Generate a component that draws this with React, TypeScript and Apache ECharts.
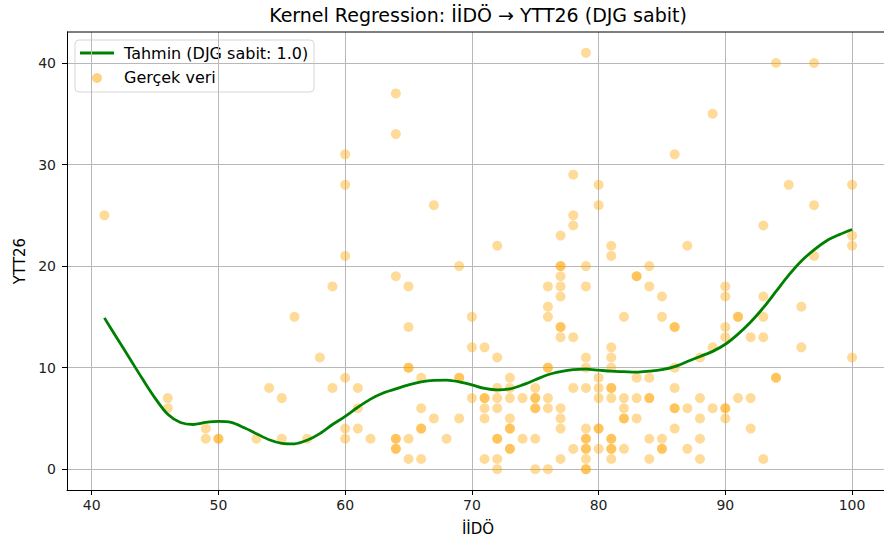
import React, { useEffect, useRef } from "react";
import * as echarts from "echarts";

// Observed data (İİDÖ → YTT26); repeated pairs are overlapping points
const pointX = [
  41,
  46, 46,
  49, 49,
  50, 50,
  53, 54, 55, 55, 56, 57, 58, 59, 59,
  60, 60, 60, 60, 60, 60,
  61, 61, 61, 62,
  64, 64, 64, 64, 64, 64, 64,
  65, 65, 65, 65, 65, 65,
  66, 66, 66, 66, 66,
  67, 67, 68,
  69, 69, 69, 69,
  70, 70, 70,
  71, 71, 71, 71, 71, 71,
  72, 72, 72, 72, 72, 72, 72, 72, 72,
  73, 73, 73, 73, 73, 73, 73, 73,
  74, 74,
  75, 75, 75, 75, 75, 75, 75,
  76, 76, 76, 76, 76, 76, 76, 76,
  77, 77, 77, 77, 77, 77, 77, 77, 77, 77, 77, 77, 77,
  78, 78, 78, 78, 78, 78,
  79, 79, 79, 79, 79, 79, 79, 79, 79, 79, 79, 79, 79, 79,
  80, 80, 80, 80, 80, 80, 80, 80,
  81, 81, 81, 81, 81, 81, 81, 81, 81, 81, 81, 81, 81,
  82, 82, 82, 82, 82, 82,
  83, 83, 83, 83, 83,
  84, 84, 84, 84, 84, 84, 84,
  85, 85, 85, 85, 85,
  86, 86, 86, 86, 86, 86, 86, 86,
  87, 87, 87,
  88, 88, 88, 88, 88,
  89, 89, 89,
  90, 90, 90, 90, 90, 90, 90,
  91, 91, 91,
  92, 92, 92,
  93, 93, 93, 93, 93,
  94, 94, 94,
  95,
  96, 96,
  97, 97, 97,
  100, 100, 100, 100,
];
const pointY = [
  25,
  7, 6,
  4, 3,
  3, 3,
  3, 8, 7, 3, 15, 3, 11, 18, 8,
  31, 28, 21, 9, 4, 3,
  8, 6, 4, 3,
  37, 33, 19, 3, 3, 2, 2,
  18, 14, 10, 10, 3, 1,
  9, 6, 4, 4, 1,
  26, 5, 3,
  20, 9, 9, 5,
  15, 12, 7,
  12, 7, 7, 6, 5, 1,
  22, 11, 8, 7, 6, 3, 3, 1, 0,
  9, 8, 7, 5, 4, 4, 2, 2,
  7, 3,
  8, 7, 7, 6, 6, 3, 0,
  18, 16, 15, 10, 10, 7, 6, 0,
  23, 20, 20, 19, 18, 17, 14, 14, 13, 6, 5, 4, 1,
  29, 25, 24, 13, 8, 2,
  41, 20, 18, 11, 10, 8, 4, 3, 3, 2, 2, 1, 0, 0,
  28, 26, 9, 8, 7, 4, 4, 2,
  22, 21, 12, 11, 10, 8, 8, 7, 3, 3, 2, 2, 1,
  15, 7, 6, 5, 5, 2,
  19, 19, 9, 7, 5,
  20, 18, 9, 7, 7, 3, 1,
  17, 15, 3, 2, 2,
  31, 14, 14, 10, 8, 6, 6, 4,
  22, 6, 2,
  11, 7, 5, 3, 1,
  35, 12, 6,
  18, 17, 14, 13, 6, 6, 5,
  15, 15, 7,
  13, 7, 4,
  24, 17, 15, 13, 1,
  40, 9, 9,
  28,
  16, 12,
  40, 26, 21,
  28, 23, 22, 11,
];

// Kernel regression prediction (DJG fixed at 1.0)
const curveX = [
  41, 42, 43, 44, 45, 46, 47, 48, 49, 50, 51, 52, 53, 54, 55, 56, 57, 58, 59, 60,
  61, 62, 63, 64, 65, 66, 67, 68, 69, 70, 71, 72, 73, 74, 75, 76, 77, 78, 79, 80,
  81, 82, 83, 84, 85, 86, 87, 88, 89, 90, 91, 92, 93, 94, 95, 96, 97, 98, 99, 100,
];
const curveY = [
  14.9, 12.9, 10.9, 8.9, 7.0, 5.4, 4.6, 4.4, 4.6, 4.7, 4.6, 4.1, 3.5, 2.9, 2.55, 2.5, 2.85, 3.5, 4.4, 5.2,
  6.1, 6.9, 7.5, 7.9, 8.3, 8.6, 8.75, 8.77, 8.6, 8.3, 7.95, 7.8, 7.9, 8.3, 8.8, 9.3, 9.6, 9.8, 9.85, 9.75,
  9.65, 9.6, 9.55, 9.65, 9.8, 10.1, 10.6, 11.1, 11.6, 12.3, 13.3, 14.5, 15.9, 17.5, 19.1, 20.5, 21.6, 22.5, 23.1, 23.6,
];

const xTicks = [40, 50, 60, 70, 80, 90, 100];
const yTicks = [0, 10, 20, 30, 40];

const titleText = "Kernel Regression: İİDÖ → YTT26 (DJG sabit)";
const xName = "İİDÖ";
const yName = "YTT26";
const lineLabel = "Tahmin (DJG sabit: 1.0)";
const pointLabel = "Gerçek veri";

const FONT = "DejaVu Sans";
const DOT = "rgba(255,165,0,0.5)";
const GREEN = "#008000";

export default function App() {
  const ref = useRef<HTMLDivElement>(null);
  useEffect(() => {
    const chart = echarts.init(ref.current!, null, { renderer: "svg" });
    const axisCommon = {
      type: "value",
      axisLine: { show: true, onZero: false, lineStyle: { color: "#000", width: 1 } },
      axisTick: { show: true, length: 5, lineStyle: { color: "#000", width: 1 } },
      splitLine: { show: true, lineStyle: { color: "#b8b8b8", width: 1 } },
      axisLabel: { color: "#222", fontSize: 14, fontFamily: FONT },
    };
    chart.setOption({
      animation: false,
      grid: { left: 67, right: 0, top: 32, bottom: 49, containLabel: false },
      xAxis: {
        ...axisCommon,
        min: 38.05,
        max: 102.52,
        axisTick: { ...axisCommon.axisTick, customValues: xTicks },
        axisLabel: { ...axisCommon.axisLabel, customValues: xTicks, margin: 8 },
      },
      yAxis: {
        ...axisCommon,
        min: -2.05,
        max: 43.05,
        axisTick: { ...axisCommon.axisTick, customValues: yTicks },
        axisLabel: { ...axisCommon.axisLabel, customValues: yTicks, margin: 11 },
      },
      series: [
        {
          type: "scatter",
          data: pointX.map((x, i) => [x, pointY[i]]),
          symbolSize: 10,
          itemStyle: { color: DOT },
          z: 2,
        },
        {
          type: "line",
          data: curveX.map((x, i) => [x, curveY[i]]),
          smooth: 0.3,
          showSymbol: false,
          lineStyle: { color: GREEN, width: 2.8 },
          z: 3,
        },
      ],
      graphic: [
        {
          type: "line",
          shape: { x1: 67, y1: 32, x2: 884, y2: 32 },
          style: { stroke: "#000", lineWidth: 1 },
          z: 50,
        },
        {
          type: "text",
          x: 478,
          y: 15,
          style: {
            text: titleText,
            fontSize: 19,
            fontFamily: FONT,
            fill: "#000",
            textAlign: "center",
            textVerticalAlign: "middle",
          },
        },
        {
          type: "text",
          x: 478,
          y: 529,
          style: {
            text: xName,
            fontSize: 15,
            fontFamily: FONT,
            fill: "#000",
            textAlign: "center",
            textVerticalAlign: "middle",
          },
        },
        {
          type: "text",
          x: 20,
          y: 261,
          rotation: Math.PI / 2,
          style: {
            text: yName,
            fontSize: 15,
            fontFamily: FONT,
            fill: "#000",
            textAlign: "center",
            textVerticalAlign: "middle",
          },
        },
        {
          type: "group",
          z: 100,
          children: [
            {
              type: "rect",
              shape: { x: 75, y: 40, width: 239, height: 52, r: 4 },
              style: { fill: "rgba(255,255,255,0.8)", stroke: "#d6d6d6", lineWidth: 1 },
            },
            {
              type: "line",
              shape: { x1: 80, y1: 53, x2: 114, y2: 53 },
              style: { stroke: GREEN, lineWidth: 2.8 },
            },
            {
              type: "text",
              x: 124,
              y: 53,
              style: {
                text: lineLabel,
                fontSize: 16,
                fontFamily: FONT,
                fill: "#000",
                textVerticalAlign: "middle",
              },
            },
            {
              type: "circle",
              shape: { cx: 97, cy: 78, r: 5 },
              style: { fill: DOT },
            },
            {
              type: "text",
              x: 124,
              y: 77,
              style: {
                text: pointLabel,
                fontSize: 16,
                fontFamily: FONT,
                fill: "#000",
                textVerticalAlign: "middle",
              },
            },
          ],
        },
      ],
    });
    return () => chart.dispose();
  }, []);
  return (
    <div
      ref={ref}
      style={{ position: "absolute", left: 0, top: 0, width: 884, height: 539 }}
    />
  );
}
